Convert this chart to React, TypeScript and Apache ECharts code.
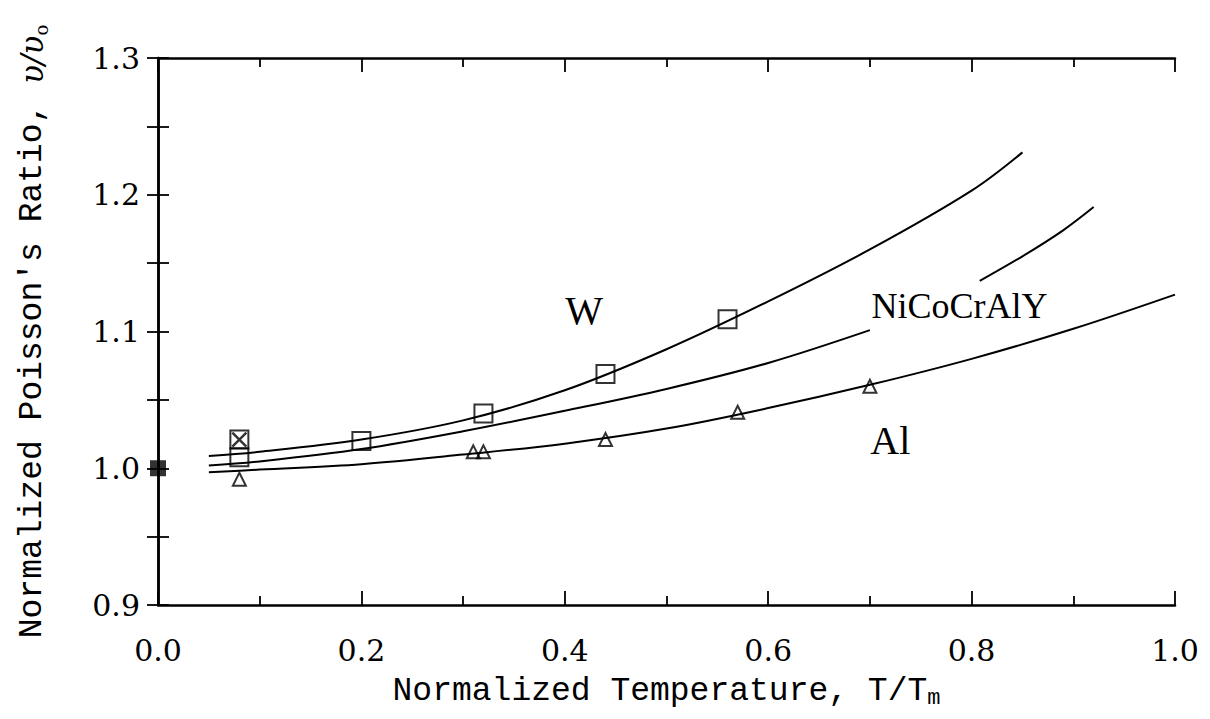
import React, { useEffect, useRef } from "react";
import * as echarts from "echarts";

// Fitted curves
const wCurve: number[][] = [[0.05, 1.009], [0.1, 1.012], [0.2, 1.021], [0.3, 1.035], [0.4, 1.057], [0.5, 1.087], [0.6, 1.122], [0.7, 1.16], [0.8, 1.203], [0.85, 1.231]];
const niCurveA: number[][] = [[0.05, 1.002], [0.1, 1.005], [0.2, 1.014], [0.3, 1.027], [0.4, 1.042], [0.5, 1.058], [0.6, 1.077], [0.7, 1.101]];
const niCurveB: number[][] = [[0.808, 1.137], [0.85, 1.155], [0.89, 1.174], [0.92, 1.191]];
const alCurve: number[][] = [[0.05, 0.997], [0.1, 0.999], [0.2, 1.003], [0.3, 1.01], [0.4, 1.018], [0.5, 1.029], [0.6, 1.044], [0.7, 1.061], [0.8, 1.08], [0.9, 1.102], [1.0, 1.127]];

// Measured points
const wPoints: number[][] = [[0.08, 1.008], [0.08, 1.021], [0.2, 1.02], [0.32, 1.04], [0.44, 1.069], [0.56, 1.109]];
const crossedPoints: number[][] = [[0.08, 1.021]];
const alPoints: number[][] = [[0.08, 0.992], [0.31, 1.012], [0.32, 1.012], [0.44, 1.021], [0.57, 1.041], [0.7, 1.06]];
const originPoints: number[][] = [[0.0, 1.0]];

// Curve labels [text, x, y, fontSize]
const curveLabels: [string, number, number, number][] = [["W", 0.419, 1.115, 40], ["NiCoCrAlY", 0.788, 1.119, 36], ["Al", 0.72, 1.02, 40]];

const tickFont = "DejaVu Serif";
const titleFont = "Liberation Mono";
const labelFont = "Liberation Serif";

export default function App() {
  const ref = useRef<HTMLDivElement>(null);
  useEffect(() => {
    document.body.style.margin = "0";
    const chart = echarts.init(ref.current!, null, { renderer: "svg" });
    const lineStyle = { color: "#000", width: 2 };
    const hollow = { color: "rgba(0,0,0,0)", borderColor: "#000", borderWidth: 2 };
    const axisCommon = {
      axisLine: { show: true, lineStyle: { color: "#000", width: 2.5 } },
      splitLine: { show: false },
    };
    const xTick = { show: true, inside: true, length: 14, lineStyle: { color: "#000", width: 1.8 } };
    const xMinor = { show: true, splitNumber: 2, length: 9, lineStyle: { color: "#000", width: 1.8 } };
    const yTick = { show: true, inside: true, length: 11, lineStyle: { color: "#000", width: 1.8 } };
    const yMinor = { show: true, splitNumber: 2, length: 11, lineStyle: { color: "#000", width: 1.8 } };
    const smoothLine = (data: number[][]) => ({
      type: "line", data, smooth: 0.35, showSymbol: false, lineStyle,
    });
    chart.setOption({
      animation: false,
      backgroundColor: "#fff",
      grid: { left: 158, right: 35, top: 58, bottom: 114, outerBoundsMode: "none", containLabel: false },
      xAxis: [
        {
          type: "value", min: 0, max: 1, interval: 0.2, position: "bottom",
          ...axisCommon,
          axisTick: xTick,
          minorTick: xMinor,
          axisLabel: { color: "#000", fontFamily: tickFont, fontSize: 30, margin: 30, formatter: (v: number) => v.toFixed(1) },
          name: "{a|Normalized Temperature, T/T}{b|m}",
          nameLocation: "middle",
          nameGap: 68,
          nameTextStyle: {
            rich: {
              a: { fontFamily: titleFont, fontSize: 33, color: "#000", lineHeight: 36, verticalAlign: "middle" },
              b: { fontFamily: titleFont, fontSize: 22, color: "#000", lineHeight: 36, verticalAlign: "bottom", padding: [12, 0, 0, 0] },
            },
          },
        },
        {
          type: "value", min: 0, max: 1, interval: 0.2, position: "top",
          ...axisCommon,
          axisTick: xTick,
          minorTick: xMinor,
          axisLabel: { show: false },
        },
      ],
      yAxis: [
        {
          type: "value", min: 0.9, max: 1.3, interval: 0.1, position: "left",
          ...axisCommon,
          axisTick: yTick,
          minorTick: yMinor,
          axisLabel: { color: "#000", fontFamily: tickFont, fontSize: 30, margin: 18, formatter: (v: number) => v.toFixed(1) },
          name: "{a|Normalized Poisson's Ratio, }{i|υ/υ}{s|o}",
          nameLocation: "middle",
          nameGap: 108,
          nameTextStyle: {
            rich: {
              a: { fontFamily: titleFont, fontSize: 33, color: "#000", lineHeight: 36, verticalAlign: "middle" },
              i: { fontFamily: tickFont, fontStyle: "italic", fontSize: 31, color: "#000", lineHeight: 36, verticalAlign: "middle" },
              s: { fontFamily: tickFont, fontSize: 18, color: "#000", lineHeight: 36, verticalAlign: "bottom", padding: [12, 0, 0, 0] },
            },
          },
        },
        {
          type: "value", min: 0.9, max: 1.3, interval: 0.1, position: "right",
          ...axisCommon,
          axisTick: yTick,
          minorTick: yMinor,
          axisLabel: { show: false },
        },
      ],
      series: [
        smoothLine(wCurve),
        smoothLine(niCurveA),
        smoothLine(niCurveB),
        smoothLine(alCurve),
        { type: "scatter", data: wPoints, symbol: "rect", symbolSize: 18, itemStyle: hollow, z: 5 },
        { type: "scatter", data: crossedPoints, symbol: "path://M0,0L10,10M10,0L0,10", symbolSize: 14, itemStyle: { color: "rgba(0,0,0,0)", borderColor: "#000", borderWidth: 2.5 }, z: 6 },
        { type: "scatter", data: alPoints, symbol: "triangle", symbolSize: 13, itemStyle: hollow, z: 5 },
        { type: "scatter", data: originPoints, symbol: "rect", symbolSize: 16, itemStyle: { color: "#000" }, z: 6 },
      ],
    });
    const graphic = curveLabels.map(([t, x, y, fs]) => {
      const p = chart.convertToPixel({ xAxisIndex: 0, yAxisIndex: 0 }, [x, y]) as number[];
      return {
        type: "text", x: p[0], y: p[1],
        style: { text: t, fontFamily: labelFont, fontSize: fs, fill: "#000", textAlign: "center", textVerticalAlign: "middle" },
      };
    });
    chart.setOption({ graphic });
    return () => chart.dispose();
  }, []);
  return <div ref={ref} style={{ position: "fixed", left: 0, top: 0, width: 1210, height: 719 }} />;
}
